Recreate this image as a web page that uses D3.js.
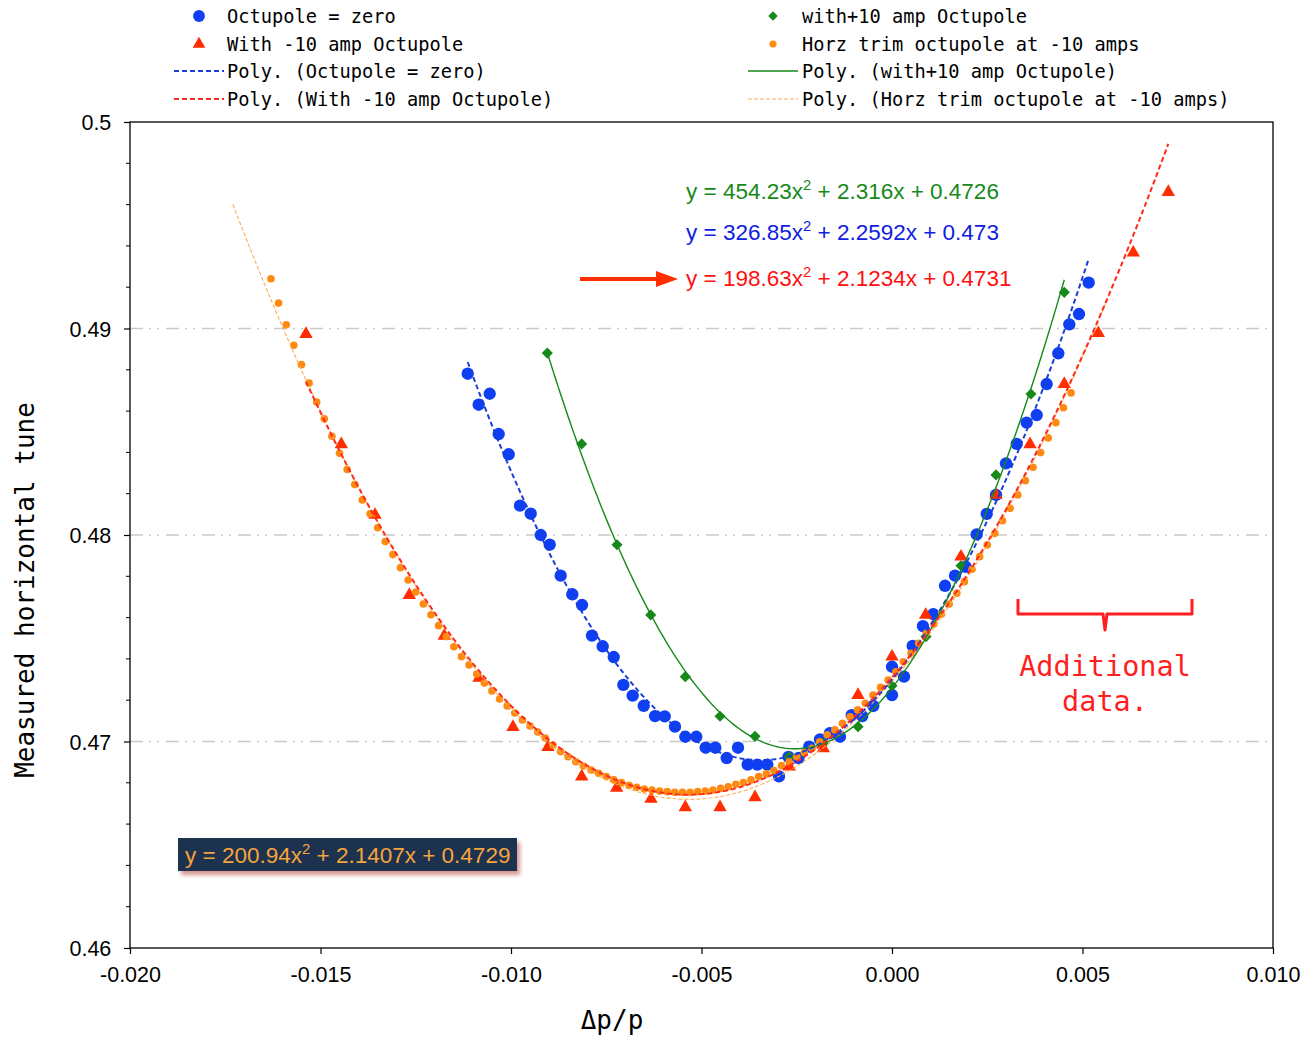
<!DOCTYPE html>
<html>
<head>
<meta charset="utf-8">
<script src="https://cdn.jsdelivr.net/npm/d3@7"></script>
<style>
  body { margin: 0; background: #fff; }
  svg { display: block; }
</style>
</head>
<body>
<svg id="chart" width="1307" height="1037"></svg>
<script>
// ---- Measured tune vs momentum offset ----
const zeroX = [-0.011136,-0.010848,-0.010559,-0.010323,-0.010060,-0.009764,-0.009483,-0.009220,-0.008984,-0.008696,
  -0.008391,-0.008136,-0.007874,-0.007593,-0.007304,-0.007052,-0.006806,-0.006517,-0.006220,-0.005966,
  -0.005696,-0.005425,-0.005136,-0.004890,-0.004638,-0.004339,-0.004042,-0.003787,-0.003535,-0.003273,
  -0.002966,-0.002717,-0.002454,-0.002171,-0.001890,-0.001630,-0.001365,-0.001058,-0.000780,-0.000491,
  0.000000,0.000000,0.000315,0.000543,0.000811,0.001084,0.001391,0.001654,0.001934,0.002223,
  0.002486,0.002730,0.002992,0.003273,0.003535,0.003798,0.004060,0.004365,0.004654,0.004908,0.005163];
const zeroY = [0.48781,0.48631,0.48684,0.48489,0.48391,0.48142,0.48103,0.48000,0.47953,0.47803,
  0.47713,0.47661,0.47513,0.47461,0.47409,0.47274,0.47222,0.47173,0.47123,0.47122,
  0.47072,0.47023,0.47023,0.46970,0.46970,0.46920,0.46970,0.46888,0.46888,0.46888,
  0.46831,0.46925,0.46920,0.46975,0.47010,0.47040,0.47023,0.47128,0.47123,0.47172,
  0.47225,0.47362,0.47314,0.47463,0.47559,0.47617,0.47754,0.47803,0.47846,0.48003,
  0.48102,0.48194,0.48347,0.48441,0.48544,0.48581,0.48731,0.48880,0.49020,0.49070,0.49222];

const plusX = [-0.009047,-0.008144,-0.007218,-0.006333,-0.005425,-0.004514,-0.003596,-0.002696,-0.001798,-0.000892,
  0.000000,0.000892,0.001811,0.002730,0.003648,0.004522];
const plusY = [0.48881,0.48441,0.47953,0.47613,0.47314,0.47122,0.47025,0.46926,0.46990,0.47072,
  0.47270,0.47508,0.47851,0.48291,0.48683,0.49175];

const minusX = [-0.015381,-0.014454,-0.013570,-0.012669,-0.011751,-0.010840,-0.009948,-0.009029,-0.008144,-0.007226,
  -0.006325,-0.005425,-0.004514,-0.003596,-0.002696,-0.001803,-0.000892,0.000000,0.000885,0.001811,
  0.002730,0.003622,0.004522,0.005415,0.006333,0.007252];
const minusY = [0.48973,0.48439,0.48097,0.47709,0.47512,0.47308,0.47070,0.46973,0.46830,0.46776,
  0.46722,0.46681,0.46681,0.46730,0.46878,0.46967,0.47225,0.47411,0.47613,0.47895,
  0.48194,0.48439,0.48731,0.48977,0.49367,0.49661];

const trimX = [-0.0163,-0.0161,-0.0159,-0.0157,-0.0155,-0.0153,-0.0151,-0.0149,-0.0147,-0.0145,
  -0.0143,-0.0141,-0.0139,-0.0137,-0.0135,-0.0133,-0.0131,-0.0129,-0.0127,-0.0125,
  -0.0123,-0.0121,-0.0119,-0.0117,-0.0115,-0.0113,-0.0111,-0.0109,-0.0107,-0.0105,
  -0.0103,-0.0101,-0.0099,-0.0097,-0.0095,-0.0093,-0.0091,-0.0089,-0.0087,-0.0085,
  -0.0083,-0.0081,-0.0079,-0.0077,-0.0075,-0.0073,-0.0071,-0.0069,-0.0067,-0.0065,
  -0.0063,-0.0061,-0.0059,-0.0057,-0.0055,-0.0053,-0.0051,-0.0049,-0.0047,-0.0045,
  -0.0043,-0.0041,-0.0039,-0.0037,-0.0035,-0.0033,-0.0031,-0.0029,-0.0027,-0.0025,
  -0.0023,-0.0021,-0.0019,-0.0017,-0.0015,-0.0013,-0.0011,-0.0009,-0.0007,-0.0005,
  -0.0003,-0.0001,0.0001,0.0003,0.0005,0.0007,0.0009,0.0011,0.0013,0.0015,
  0.0017,0.0019,0.0021,0.0023,0.0025,0.0027,0.0029,0.0031,0.0033,0.0035,
  0.0037,0.0039,0.0041,0.0043,0.0045,0.0047];
const trimY = [0.49241,0.49123,0.49018,0.48919,0.48825,0.48736,0.48644,0.48563,0.48478,0.48396,
  0.48317,0.48244,0.48170,0.48103,0.48035,0.47968,0.47905,0.47842,0.47782,0.47724,
  0.47666,0.47614,0.47561,0.47508,0.47459,0.47411,0.47371,0.47327,0.47283,0.47245,
  0.47206,0.47172,0.47138,0.47104,0.47075,0.47046,0.47017,0.46983,0.46951,0.46926,
  0.46902,0.46881,0.46862,0.46846,0.46830,0.46814,0.46801,0.46788,0.46778,0.46770,
  0.46765,0.46760,0.46757,0.46754,0.46754,0.46754,0.46757,0.46760,0.46765,0.46773,
  0.46781,0.46793,0.46801,0.46814,0.46830,0.46843,0.46859,0.46883,0.46902,0.46926,
  0.46946,0.46967,0.46999,0.47032,0.47056,0.47088,0.47120,0.47153,0.47185,0.47225,
  0.47262,0.47298,0.47338,0.47386,0.47427,0.47476,0.47524,0.47569,0.47617,0.47666,
  0.47718,0.47774,0.47834,0.47895,0.47952,0.48008,0.48069,0.48129,0.48194,0.48263,
  0.48328,0.48399,0.48470,0.48544,0.48616,0.48688];

// Quadratic fit coefficients [a, b, c] and the x span each fit is drawn over
const fitZero  = [326.85, 2.2592, 0.473];
const fitPlus  = [454.23, 2.316, 0.4726];
const fitMinus = [198.63, 2.1234, 0.4731];
const fitTrim  = [200.94, 2.1407, 0.4729];
const spanZero  = [-0.011136, 0.005163];
const spanPlus  = [-0.009047, 0.004522];
const spanMinus = [-0.015381, 0.007252];
const spanTrim  = [-0.0173, 0.0057];

const xTicks = [-0.020, -0.015, -0.010, -0.005, 0.000, 0.005, 0.010];
const xTickLabels = ["-0.020", "-0.015", "-0.010", "-0.005", "0.000", "0.005", "0.010"];
const yTicks = [0.46, 0.47, 0.48, 0.49, 0.50];
const yTickLabels = ["0.46", "0.47", "0.48", "0.49", "0.5"];
const gridValues = [0.47, 0.48, 0.49];

const seriesNames = ["Octupole = zero", "with+10 amp Octupole", "With -10 amp Octupole", "Horz trim octupole at -10 amps"];

const svg = d3.select("#chart");
const plot = { left: 130, right: 1273, top: 122, bottom: 948 };

const x = d3.scaleLinear().domain([-0.02, 0.01]).range([plot.left, plot.right]);
const y = d3.scaleLinear().domain([0.46, 0.50]).range([plot.bottom, plot.top]);

const C = {
  blue: "#0f3ff2", blueLine: "#1b3fd6",
  green: "#16891a", red: "#ff2d00", redLine: "#ff2a1a",
  orange: "#ff8a12", orangeLine: "#ffad55",
  grid: "#c9c9c9", navy: "#1a3050", eqOrange: "#f6a43c", note: "#ff1f1f"
};

const sansFont = "'Liberation Sans', Arial, Helvetica, sans-serif";
const monoFont = "'DejaVu Sans Mono', 'Liberation Mono', monospace";

const defs = svg.append("defs");
const shadow = defs.append("filter").attr("id", "boxShadow")
  .attr("x", "-10%").attr("y", "-30%").attr("width", "130%").attr("height", "190%");
shadow.append("feDropShadow").attr("dx", 3).attr("dy", 4).attr("stdDeviation", 2.2)
  .attr("flood-color", "#c8726a").attr("flood-opacity", 0.75);

// Dash-dot grid lines
svg.append("g").selectAll("line").data(gridValues).join("line")
  .attr("x1", plot.left).attr("x2", plot.right)
  .attr("y1", d => y(d)).attr("y2", d => y(d))
  .attr("stroke", C.grid).attr("stroke-width", 1.6)
  .attr("stroke-dasharray", "13,6,2,6,2,7");

// Axes
const xAxis = d3.axisBottom(x).tickValues(xTicks)
  .tickFormat((d, i) => xTickLabels[i]).tickSize(6).tickSizeOuter(0);
const yAxis = d3.axisLeft(y).tickValues(yTicks)
  .tickFormat((d, i) => yTickLabels[i]).tickSize(6).tickSizeOuter(0);

const gx = svg.append("g").attr("transform", `translate(0,${plot.bottom})`).call(xAxis);
gx.selectAll("text").attr("font-family", sansFont).attr("font-size", 21.5).attr("fill", "#000").attr("dy", "1.15em");
const gy = svg.append("g").attr("transform", `translate(${plot.left},0)`).call(yAxis);
gy.selectAll("text").attr("font-family", sansFont).attr("font-size", 21.5).attr("fill", "#000").attr("dx", "-0.45em").attr("dy", "0.35em");
[gx, gy].forEach(g => {
  g.select(".domain").remove();
  g.selectAll(".tick line").attr("stroke", "#000").attr("stroke-width", 1.2);
});

// Minor ticks on the tune axis
const yMinor = d3.range(0.462, 0.4999, 0.002).filter(v => Math.abs(v * 100 - Math.round(v * 100)) > 1e-6);
svg.append("g").selectAll("line").data(yMinor).join("line")
  .attr("x1", plot.left - 4).attr("x2", plot.left)
  .attr("y1", d => y(d)).attr("y2", d => y(d))
  .attr("stroke", "#000").attr("stroke-width", 1);

// Frame
svg.append("rect")
  .attr("x", plot.left).attr("y", plot.top)
  .attr("width", plot.right - plot.left).attr("height", plot.bottom - plot.top)
  .attr("fill", "none").attr("stroke", "#000").attr("stroke-width", 1.3);

// Markers
const sym = (type, size) => d3.symbol().type(type).size(size)();
const zip = (xs, ys) => xs.map((v, i) => [v, ys[i]]);

function drawMarkers(pts, path, fill, rotate) {
  svg.append("g").selectAll("path").data(pts).join("path")
    .attr("d", path)
    .attr("transform", d => `translate(${x(d[0])},${y(d[1])})${rotate ? " rotate(45)" : ""}`)
    .attr("fill", fill);
}
drawMarkers(zip(zeroX, zeroY), sym(d3.symbolCircle, 120), C.blue, false);
drawMarkers(zip(plusX, plusY), sym(d3.symbolSquare, 62), C.green, true);
drawMarkers(zip(minusX, minusY), sym(d3.symbolTriangle, 78), C.red, false);
drawMarkers(zip(trimX, trimY), sym(d3.symbolCircle, 46), C.orange, false);

// Fitted curves
const line = d3.line().x(d => x(d[0])).y(d => y(d[1]));
function fitCurve(coef, span) {
  const [a, b, c] = coef;
  const n = 200;
  return d3.range(n + 1).map(i => {
    const t = span[0] + (span[1] - span[0]) * i / n;
    return [t, a * t * t + b * t + c];
  });
}
svg.append("path").attr("d", line(fitCurve(fitTrim, spanTrim)))
  .attr("fill", "none").attr("stroke", C.orangeLine).attr("stroke-width", 1.1).attr("stroke-dasharray", "4,2");
svg.append("path").attr("d", line(fitCurve(fitZero, spanZero)))
  .attr("fill", "none").attr("stroke", C.blueLine).attr("stroke-width", 2).attr("stroke-dasharray", "5,3");
svg.append("path").attr("d", line(fitCurve(fitPlus, spanPlus)))
  .attr("fill", "none").attr("stroke", C.green).attr("stroke-width", 1.4);
svg.append("path").attr("d", line(fitCurve(fitMinus, spanMinus)))
  .attr("fill", "none").attr("stroke", C.redLine).attr("stroke-width", 2).attr("stroke-dasharray", "5,3");

// Fit equations
function equation(g, coef, px, py, color, size) {
  const t = g.append("text").attr("x", px).attr("y", py)
    .attr("font-family", sansFont).attr("font-size", size).attr("fill", color);
  t.append("tspan").text(`y = ${coef[0]}x`);
  t.append("tspan").attr("font-size", size * 0.66).attr("dy", -size * 0.4).text("2");
  t.append("tspan").attr("dy", size * 0.4).text(` + ${coef[1]}x + ${coef[2]}`);
  return t;
}
const eqs = svg.append("g");
equation(eqs, fitPlus, 686, 199, C.green, 22.5);
equation(eqs, fitZero, 686, 240, "#1020e0", 22.5);
equation(eqs, fitMinus, 686, 286, "#ff1010", 22.5);

// Arrow pointing at the -10 amp fit
svg.append("line").attr("x1", 580).attr("x2", 660).attr("y1", 279).attr("y2", 279)
  .attr("stroke", C.red).attr("stroke-width", 4);
svg.append("path").attr("d", "M656,271 L678,279 L656,287 Z").attr("fill", C.red);

// Boxed equation for the trim-octupole fit
const boxG = svg.append("g");
boxG.append("rect").attr("x", 178).attr("y", 838).attr("width", 339).attr("height", 33)
  .attr("fill", C.navy).attr("filter", "url(#boxShadow)");
equation(boxG, fitTrim, 185, 863, C.eqOrange, 22.5);

// Bracket note
svg.append("path")
  .attr("d", "M1018,599 L1018,614 L1103,614 L1105,630 L1107,614 L1192,614 L1192,599")
  .attr("fill", "none").attr("stroke", C.note).attr("stroke-width", 3).attr("stroke-linejoin", "round");
svg.append("text").attr("x", 1105).attr("y", 676).attr("text-anchor", "middle")
  .attr("font-family", monoFont).attr("font-size", 28.5).attr("fill", C.note).text("Additional");
svg.append("text").attr("x", 1105).attr("y", 711).attr("text-anchor", "middle")
  .attr("font-family", monoFont).attr("font-size", 28.5).attr("fill", C.note).text("data.");

// Axis titles
svg.append("text").attr("x", 612).attr("y", 1029).attr("text-anchor", "middle")
  .attr("font-family", monoFont).attr("font-size", 26).attr("fill", "#000").text("\u0394p/p");
svg.append("text").attr("transform", "translate(34,590) rotate(-90)").attr("text-anchor", "middle")
  .attr("font-family", monoFont).attr("font-size", 26).attr("fill", "#000").text("Measured horizontal tune");

// Legend
const legend = svg.append("g").attr("font-family", monoFont).attr("font-size", 18.7).attr("fill", "#000");
const legendRows = [
  { col: 0, row: 0, kind: "marker", path: sym(d3.symbolCircle, 110), color: C.blue, rot: false, label: seriesNames[0] },
  { col: 1, row: 0, kind: "marker", path: sym(d3.symbolSquare, 45), color: C.green, rot: true, label: seriesNames[1] },
  { col: 0, row: 1, kind: "marker", path: sym(d3.symbolTriangle, 70), color: C.red, rot: false, label: seriesNames[2] },
  { col: 1, row: 1, kind: "marker", path: sym(d3.symbolCircle, 40), color: C.orange, rot: false, label: seriesNames[3] },
  { col: 0, row: 2, kind: "line", color: C.blueLine, dash: "5,3", w: 2, label: `Poly. (${seriesNames[0]})` },
  { col: 1, row: 2, kind: "line", color: C.green, dash: null, w: 1.4, label: `Poly. (${seriesNames[1]})` },
  { col: 0, row: 3, kind: "line", color: C.redLine, dash: "5,3", w: 2, label: `Poly. (${seriesNames[2]})` },
  { col: 1, row: 3, kind: "line", color: C.orangeLine, dash: "4,2", w: 1.1, label: `Poly. (${seriesNames[3]})` }
];
const colX = [174, 748];
const textX = [227, 802];
const rowY = [16, 44, 71, 99];
legendRows.forEach(r => {
  const cy = rowY[r.row];
  if (r.kind === "marker") {
    legend.append("path").attr("d", r.path)
      .attr("transform", `translate(${colX[r.col] + 25},${cy})${r.rot ? " rotate(45)" : ""}`)
      .attr("fill", r.color);
  } else {
    legend.append("line").attr("x1", colX[r.col]).attr("x2", colX[r.col] + 50)
      .attr("y1", cy).attr("y2", cy).attr("stroke", r.color).attr("stroke-width", r.w)
      .attr("stroke-dasharray", r.dash);
  }
  legend.append("text").attr("x", textX[r.col]).attr("y", cy).attr("dy", "0.35em").text(r.label);
});
</script>
</body>
</html>
